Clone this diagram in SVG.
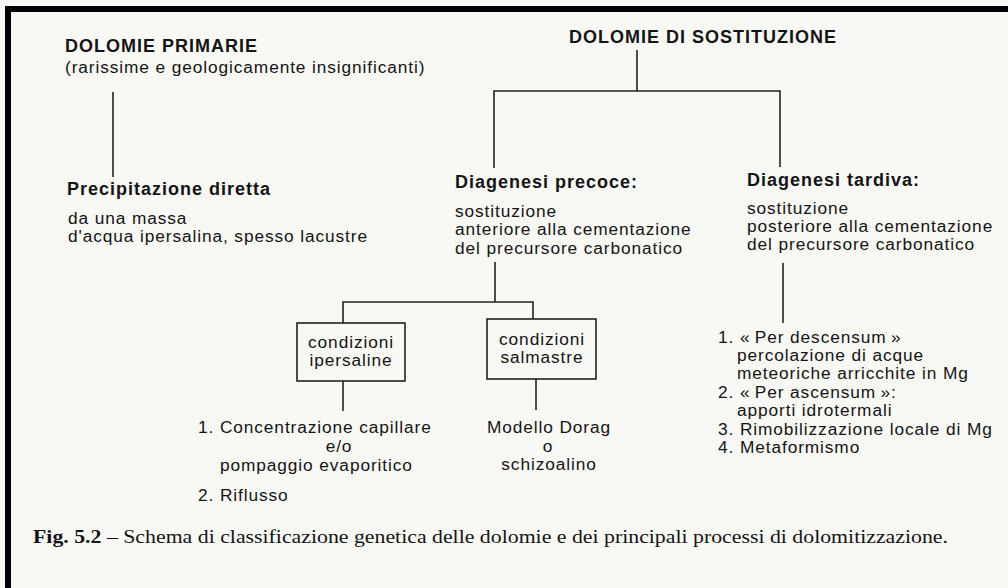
<svg xmlns="http://www.w3.org/2000/svg" width="1008" height="588" viewBox="0 0 1008 588">
<style>
  text { font-family: "Liberation Sans", Arial, sans-serif; fill: #141414; }
  .h { font-weight: bold; font-size: 18px; letter-spacing: 1px; }
  .t { font-size: 17.3px; letter-spacing: 0.9px; }
  .c { text-anchor: middle; }
  .cap { font-family: "Liberation Serif", "Times New Roman", serif; font-size: 19px; }
  .ln { stroke: #222; stroke-width: 1.6; fill: none; }
  .box { stroke: #222; stroke-width: 1.6; fill: none; }
</style>
<rect x="0" y="0" width="1008" height="588" fill="#f8f8f4"/>
<rect x="5" y="6" width="1003" height="6" fill="#000"/>
<rect x="5" y="6" width="6" height="582" fill="#000"/>

<g id="connectors">
  <path class="ln" d="M113 92 V177"/>
  <path class="ln" d="M637 50 V91"/>
  <path class="ln" d="M494 168 V91 H780 V167"/>
  <path class="ln" d="M495 262 V302"/>
  <path class="ln" d="M343 323 V302 H533 V319"/>
  <path class="ln" d="M343 381 V411"/>
  <path class="ln" d="M536 379 V410"/>
  <path class="ln" d="M783 263 V323"/>
</g>

<g id="primarie">
  <text class="h" x="65" y="52">DOLOMIE PRIMARIE</text>
  <text class="t" x="65" y="73">(rarissime e geologicamente insignificanti)</text>
</g>

<g id="sostituzione">
  <text class="h" x="569" y="43">DOLOMIE DI SOSTITUZIONE</text>
</g>

<g id="precipitazione">
  <text class="h" x="67" y="195">Precipitazione diretta</text>
  <text class="t" x="68" y="224">da una massa</text>
  <text class="t" x="68" y="242">d'acqua ipersalina, spesso lacustre</text>
</g>

<g id="precoce">
  <text class="h" x="455" y="188">Diagenesi precoce:</text>
  <text class="t" x="455" y="217">sostituzione</text>
  <text class="t" x="455" y="235">anteriore alla cementazione</text>
  <text class="t" x="455" y="254">del precursore carbonatico</text>
</g>

<g id="tardiva">
  <text class="h" x="747" y="186">Diagenesi tardiva:</text>
  <text class="t" x="747" y="214">sostituzione</text>
  <text class="t" x="747" y="232">posteriore alla cementazione</text>
  <text class="t" x="747" y="250">del precursore carbonatico</text>
</g>

<g id="ipersaline">
  <rect class="box" x="297" y="323" width="108" height="58"/>
  <text class="t c" x="351" y="348">condizioni</text>
  <text class="t c" x="351" y="366">ipersaline</text>
</g>

<g id="salmastre">
  <rect class="box" x="487" y="319" width="109" height="60"/>
  <text class="t c" x="542" y="345">condizioni</text>
  <text class="t c" x="542" y="363">salmastre</text>
</g>

<g id="processi-ipersaline">
  <text class="t" x="198" y="433">1. Concentrazione capillare</text>
  <text class="t c" x="339" y="452">e/o</text>
  <text class="t" x="220" y="471">pompaggio evaporitico</text>
  <text class="t" x="198" y="501">2. Riflusso</text>
</g>

<g id="processi-salmastre">
  <text class="t c" x="549" y="433">Modello Dorag</text>
  <text class="t c" x="548" y="452">o</text>
  <text class="t c" x="549" y="470">schizoalino</text>
</g>

<g id="processi-tardiva">
  <text class="t" x="718" y="343">1. «&#8201;Per descensum&#8201;»</text>
  <text class="t" x="737" y="361">percolazione di acque</text>
  <text class="t" x="737" y="379">meteoriche arricchite in Mg</text>
  <text class="t" x="718" y="398">2. «&#8201;Per ascensum&#8201;»:</text>
  <text class="t" x="737" y="416">apporti idrotermali</text>
  <text class="t" x="718" y="435">3. Rimobilizzazione locale di Mg</text>
  <text class="t" x="718" y="453">4. Metaformismo</text>
</g>

<g id="caption">
  <text class="cap" x="33" y="543" textLength="915" lengthAdjust="spacingAndGlyphs"><tspan font-weight="bold">Fig. 5.2</tspan> – Schema di classificazione genetica delle dolomie e dei principali processi di dolomitizzazione.</text>
</g>
</svg>
